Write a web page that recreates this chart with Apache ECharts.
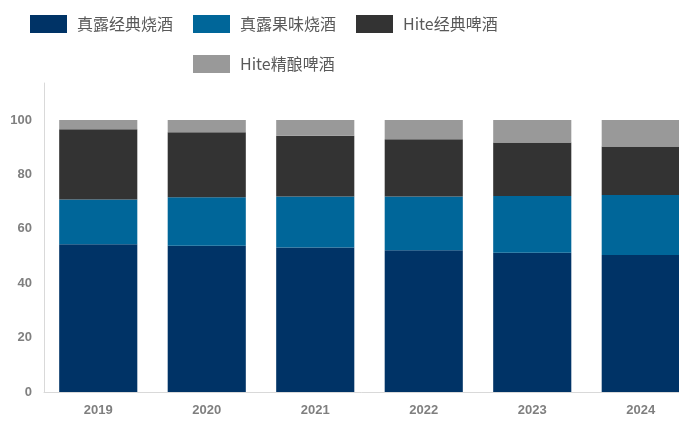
<!DOCTYPE html>
<html>
<head>
<meta charset="utf-8">
<script src="https://cdn.jsdelivr.net/npm/echarts@6/dist/echarts.min.js"></script>
<style>
html, body { margin: 0; padding: 0; background: #fff; }
#main { width: 679px; height: 421px; }
</style>
</head>
<body>
<div id="main"></div>
<script>
// 年份
var years = ['2019', '2020', '2021', '2022', '2023', '2024'];
// 各品类占比 (%)
var jinroClassic = [54.3, 53.8, 53.1, 52.1, 51.2, 50.4];
var jinroFruit = [16.5, 17.8, 18.8, 19.8, 20.9, 22.0];
var hiteClassic = [25.8, 23.9, 22.3, 21.0, 19.6, 17.9];
var hiteCraft = [3.4, 4.5, 5.8, 7.1, 8.3, 9.7];
var seriesNames = ['真露经典烧酒', '真露果味烧酒', 'Hite经典啤酒', 'Hite精酿啤酒'];

var chart = echarts.init(document.getElementById('main'));

var legendText = {
	fontFamily: 'Noto Sans CJK SC',
	fontSize: 16,
	color: '#595959',
	padding: [0, 0, 0, 5]
};

function bar(name, data, color) {
	return {
		name: name,
		type: 'bar',
		stack: 'total',
		barWidth: '72%',
		data: data,
		itemStyle: { color: color },
		emphasis: { disabled: true }
	};
}

var option = {
	animation: false,
	legend: [{
		data: seriesNames.slice(0, 3),
		left: 25,
		top: 10,
		itemWidth: 37,
		itemHeight: 18,
		itemGap: 20,
		icon: 'rect',
		textStyle: legendText
	}, {
		data: seriesNames.slice(3),
		left: 188,
		top: 50,
		itemWidth: 37,
		itemHeight: 18,
		icon: 'rect',
		textStyle: legendText
	}],
	grid: {
		left: 44,
		width: 651,
		top: 83,
		bottom: 29,
		outerBoundsMode: 'none',
		containLabel: false
	},
	xAxis: {
		type: 'category',
		data: years,
		axisLine: { lineStyle: { color: '#d9d9d9' } },
		axisTick: { show: false },
		axisLabel: {
			margin: 12,
			color: '#7f7f7f',
			fontFamily: 'Liberation Sans',
			fontWeight: 'bold',
			fontSize: 13
		}
	},
	yAxis: {
		type: 'value',
		min: 0,
		max: 113.6,
		interval: 20,
		axisLine: { show: true, lineStyle: { color: '#d9d9d9' } },
		axisTick: { show: false },
		splitLine: { show: false },
		axisLabel: {
			margin: 12,
			color: '#7f7f7f',
			fontFamily: 'Liberation Sans',
			fontWeight: 'bold',
			fontSize: 13,
			formatter: function(v) {
				return v % 20 === 0 ? v : '';
			}
		}
	},
	series: [
		bar(seriesNames[0], jinroClassic, '#003366'),
		bar(seriesNames[1], jinroFruit, '#006699'),
		bar(seriesNames[2], hiteClassic, '#333333'),
		bar(seriesNames[3], hiteCraft, '#999999')
	]
};

chart.setOption(option);
</script>
</body>
</html>
